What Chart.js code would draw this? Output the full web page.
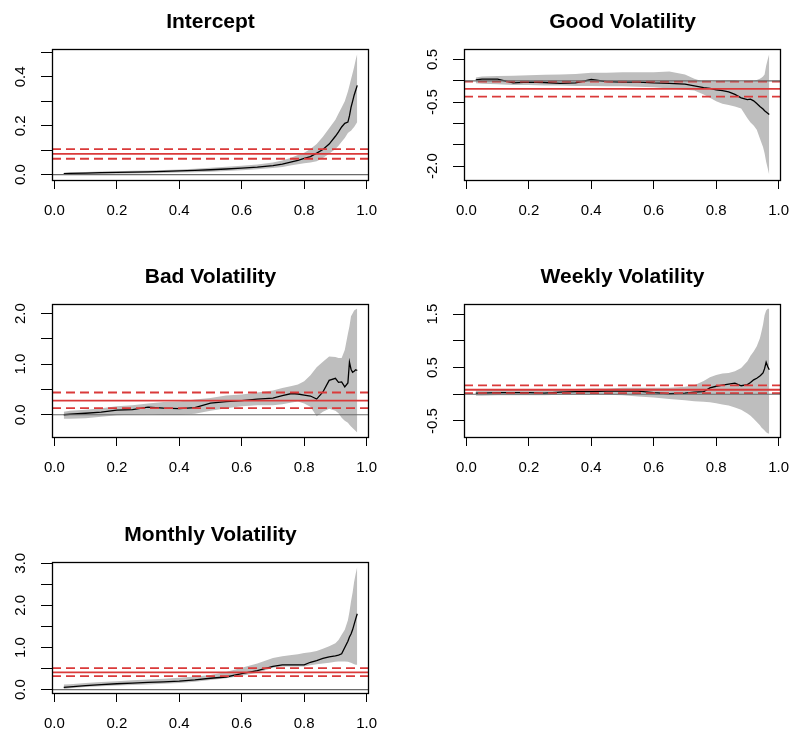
<!DOCTYPE html>
<html><head><meta charset="utf-8">
<script src="https://cdn.jsdelivr.net/npm/chart.js@4.4.1/dist/chart.umd.min.js"></script>
<style>
html,body{margin:0;padding:0;background:#fff;}
body{width:792px;height:733px;position:relative;overflow:hidden;}
.p{position:absolute;}
canvas{display:block;}
</style></head><body>
<div class="p" id="w0"><canvas id="c0"></canvas></div>
<div class="p" id="w1"><canvas id="c1"></canvas></div>
<div class="p" id="w2"><canvas id="c2"></canvas></div>
<div class="p" id="w3"><canvas id="c3"></canvas></div>
<div class="p" id="w4"><canvas id="c4"></canvas></div>
<script>
// ---------------- DATA ----------------
const taus = [0.03,0.05,0.10,0.15,0.20,0.25,0.30,0.35,0.40,0.45,0.50,0.55,0.60,0.65,0.70,0.73,0.76,0.78,0.80,0.82,0.84,0.86,0.88,0.90,0.91,0.92,0.93,0.94,0.945,0.95,0.955,0.96,0.965,0.97];

const titles = ["Intercept","Good Volatility","Bad Volatility","Weekly Volatility","Monthly Volatility"];

const interceptCoef  = [0.004,0.005,0.006,0.008,0.009,0.010,0.011,0.013,0.015,0.017,0.020,0.023,0.027,0.031,0.037,0.043,0.052,0.058,0.066,0.074,0.088,0.103,0.125,0.157,0.175,0.195,0.210,0.215,0.240,0.275,0.300,0.325,0.345,0.365];
const interceptLower = [0.000,0.001,0.002,0.003,0.004,0.005,0.006,0.007,0.009,0.010,0.012,0.015,0.018,0.022,0.027,0.031,0.038,0.042,0.047,0.050,0.055,0.068,0.085,0.105,0.118,0.135,0.150,0.170,0.175,0.180,0.188,0.195,0.205,0.215];
const interceptUpper = [0.008,0.009,0.011,0.013,0.014,0.016,0.017,0.019,0.021,0.024,0.028,0.032,0.036,0.041,0.050,0.058,0.070,0.080,0.090,0.105,0.125,0.155,0.190,0.225,0.250,0.275,0.300,0.340,0.365,0.390,0.415,0.440,0.470,0.495];
const interceptOls   = [0.085,0.065,0.104]; // estimate, lower, upper

const goodCoef  = [0.02,0.04,0.04,-0.05,-0.03,-0.04,-0.06,-0.05,0.03,-0.02,-0.03,-0.03,-0.05,-0.06,-0.08,-0.12,-0.16,-0.18,-0.21,-0.23,-0.26,-0.32,-0.40,-0.44,-0.43,-0.47,-0.53,-0.60,-0.63,-0.66,-0.70,-0.73,-0.76,-0.79];
const goodLower = [-0.06,-0.07,-0.08,-0.10,-0.10,-0.11,-0.11,-0.12,-0.12,-0.13,-0.13,-0.14,-0.15,-0.18,-0.21,-0.23,-0.32,-0.40,-0.48,-0.54,-0.57,-0.60,-0.65,-0.88,-0.98,-1.05,-1.15,-1.35,-1.45,-1.55,-1.70,-1.90,-2.05,-2.21];
const goodUpper = [0.08,0.10,0.11,0.12,0.13,0.14,0.15,0.16,0.19,0.19,0.20,0.20,0.20,0.22,0.15,0.05,-0.02,-0.03,-0.01,0.00,0.01,0.01,-0.02,-0.01,0.00,0.00,0.02,0.05,0.07,0.10,0.15,0.35,0.50,0.63];
const goodOls   = [-0.19,-0.37,-0.02];

const badCoef  = [0.00,0.01,0.03,0.05,0.09,0.10,0.15,0.13,0.12,0.14,0.23,0.26,0.28,0.31,0.33,0.38,0.42,0.41,0.39,0.37,0.31,0.45,0.68,0.72,0.64,0.65,0.55,0.63,1.04,0.90,0.84,0.86,0.89,0.875];
const badLower = [-0.08,-0.08,-0.07,-0.04,-0.01,0.00,0.01,0.00,0.00,0.02,0.08,0.13,0.17,0.19,0.19,0.21,0.24,0.26,0.22,0.16,-0.03,0.06,0.12,0.08,0.03,-0.06,-0.12,-0.16,-0.20,-0.23,-0.26,-0.29,-0.32,-0.35];
const badUpper = [0.06,0.08,0.10,0.13,0.17,0.19,0.22,0.25,0.26,0.30,0.33,0.38,0.40,0.44,0.48,0.53,0.57,0.60,0.66,0.78,0.94,1.05,1.15,1.14,1.12,1.12,1.28,1.60,1.75,1.95,2.00,2.06,2.08,2.10];
const badOls   = [0.28,0.13,0.44];

const weeklyCoef  = [0.02,0.02,0.03,0.03,0.03,0.02,0.04,0.05,0.05,0.06,0.06,0.06,0.03,0.01,0.02,0.04,0.05,0.12,0.15,0.17,0.19,0.21,0.16,0.18,0.22,0.27,0.30,0.34,0.37,0.40,0.48,0.60,0.52,0.46];
const weeklyLower = [-0.03,-0.03,-0.02,-0.02,-0.02,-0.02,-0.01,-0.01,-0.01,-0.01,-0.02,-0.04,-0.06,-0.09,-0.11,-0.13,-0.14,-0.15,-0.17,-0.19,-0.21,-0.25,-0.29,-0.36,-0.40,-0.46,-0.52,-0.58,-0.62,-0.65,-0.68,-0.71,-0.73,-0.74];
const weeklyUpper = [0.07,0.07,0.08,0.08,0.09,0.09,0.10,0.10,0.11,0.11,0.12,0.12,0.12,0.12,0.14,0.17,0.25,0.32,0.36,0.39,0.40,0.43,0.49,0.62,0.72,0.80,0.90,1.05,1.17,1.30,1.48,1.57,1.60,1.60];
const weeklyOls   = [0.085,0.02,0.165];

const monthlyCoef  = [0.055,0.065,0.095,0.12,0.14,0.155,0.17,0.185,0.20,0.23,0.27,0.30,0.38,0.45,0.55,0.59,0.59,0.59,0.59,0.65,0.69,0.74,0.78,0.80,0.82,0.85,1.00,1.15,1.25,1.32,1.42,1.55,1.68,1.80];
const monthlyLower = [0.015,0.03,0.06,0.08,0.10,0.11,0.12,0.14,0.16,0.19,0.23,0.27,0.33,0.40,0.52,0.55,0.55,0.55,0.55,0.58,0.60,0.62,0.64,0.66,0.67,0.67,0.67,0.66,0.65,0.64,0.62,0.60,0.59,0.59];
const monthlyUpper = [0.12,0.13,0.16,0.18,0.20,0.22,0.24,0.26,0.28,0.31,0.35,0.42,0.52,0.62,0.75,0.79,0.82,0.84,0.87,0.89,0.92,0.97,1.03,1.10,1.18,1.30,1.42,1.65,1.85,2.10,2.30,2.56,2.75,2.92];
const monthlyOls   = [0.41,0.32,0.51];

const xTicks = [0,0.2,0.4,0.6,0.8,1.0];
const xTickLabels = ["0.0","0.2","0.4","0.6","0.8","1.0"];

const interceptYTicks = [0,0.1,0.2,0.3,0.4,0.5];
const interceptYLabels = ["0.0","","0.2","","0.4",""];
const goodYTicks = [0.5,0,-0.5,-1.0,-1.5,-2.0];
const goodYLabels = ["0.5","","-0.5","","","-2.0"];
const badYTicks = [0,0.5,1.0,1.5,2.0];
const badYLabels = ["0.0","","1.0","","2.0"];
const weeklyYTicks = [-0.5,0,0.5,1.0,1.5];
const weeklyYLabels = ["-0.5","","0.5","","1.5"];
const monthlyYTicks = [0,0.5,1.0,1.5,2.0,2.5,3.0];
const monthlyYLabels = ["0.0","","1.0","","2.0","","3.0"];

// ---------------- LAYOUT / STYLE ----------------
const XMIN = -0.0076, XMAX = 1.0076;
const FONT = '"Liberation Sans", Arial, Helvetica, sans-serif';
const RED = 'rgb(218,58,58)';
const BAND = '#bebebe';

const panels = [
  {coef:interceptCoef, lower:interceptLower, upper:interceptUpper, ols:interceptOls, yt:interceptYTicks, yl:interceptYLabels},
  {coef:goodCoef, lower:goodLower, upper:goodUpper, ols:goodOls, yt:goodYTicks, yl:goodYLabels},
  {coef:badCoef, lower:badLower, upper:badUpper, ols:badOls, yt:badYTicks, yl:badYLabels},
  {coef:weeklyCoef, lower:weeklyLower, upper:weeklyUpper, ols:weeklyOls, yt:weeklyYTicks, yl:weeklyYLabels},
  {coef:monthlyCoef, lower:monthlyLower, upper:monthlyUpper, ols:monthlyOls, yt:monthlyYTicks, yl:monthlyYLabels}
];
const boxes = [
  {left:52, top:49, w:317, h:131, ymin:-0.022, ymax:0.514},
  {left:464, top:49, w:317, h:131, ymin:-2.325, ymax:0.745},
  {left:52, top:304, w:317, h:133, ymin:-0.44, ymax:2.19},
  {left:464, top:304, w:317, h:133, ymin:-0.80, ymax:1.69},
  {left:52, top:562, w:317, h:131, ymin:-0.08, ymax:3.03}
];

const PADL = 52, PADT = 48, PADR = 20, XAXH = 50;

const framePlugin = {
  id:'frame',
  afterDraw(chart){
    const ctx = chart.ctx, a = chart.chartArea, o = chart.options.plugins.frame;
    ctx.save();
    // box
    ctx.strokeStyle = '#000'; ctx.lineWidth = 1.3;
    ctx.strokeRect(Math.round(a.left)+0.5, Math.round(a.top)+0.5, Math.round(a.right-a.left)-1, Math.round(a.bottom-a.top));
    // title
    ctx.fillStyle = '#000';
    ctx.font = 'bold 21px ' + FONT;
    ctx.textAlign = 'center'; ctx.textBaseline = 'alphabetic';
    ctx.fillText(o.title, (a.left + a.right)/2, a.top - 21);
    // rotated y labels
    const ys = chart.scales.y;
    ctx.font = '15px ' + FONT;
    o.yTicks.forEach((v,i) => {
      const lab = o.yLabels[i];
      if (!lab) return;
      const py = ys.getPixelForValue(v);
      ctx.save();
      ctx.translate(a.left - 27.5, py);
      ctx.rotate(-Math.PI/2);
      ctx.textAlign = 'center'; ctx.textBaseline = 'alphabetic';
      ctx.fillText(lab, 0, 0);
      ctx.restore();
    });
    ctx.restore();
  }
};

function makeChart(i){
  const B = boxes[i], P = panels[i];
  const cw = PADL + B.w + PADR, ch = PADT + B.h + XAXH;
  const wrap = document.getElementById('w'+i);
  wrap.style.left = (B.left-PADL)+'px'; wrap.style.top = (B.top-PADT)+'px';
  wrap.style.width = cw+'px'; wrap.style.height = ch+'px';
  const cv = document.getElementById('c'+i);
  cv.width = cw; cv.height = ch; cv.style.width = cw+'px'; cv.style.height = ch+'px';
  const xy = arr => taus.map((t,k) => ({x:t, y:arr[k]}));
  const hline = v => [{x:XMIN, y:v}, {x:XMAX, y:v}];
  new Chart(cv, {
    type:'line',
    data:{datasets:[
      {data:hline(0), borderColor:'#6a6a6a', borderWidth:1.2},
      {data:hline(P.ols[1]), borderColor:RED, borderWidth:1.8, borderDash:[9,5]},
      {data:hline(P.ols[2]), borderColor:RED, borderWidth:1.8, borderDash:[9,5]},
      {data:hline(P.ols[0]), borderColor:RED, borderWidth:1.8},
      {data:xy(P.coef), borderColor:'#000', borderWidth:1.3},
      {data:xy(P.upper), borderColor:'rgba(0,0,0,0)', borderWidth:0},
      {data:xy(P.lower), borderColor:'rgba(0,0,0,0)', borderWidth:0, fill:'-1', backgroundColor:BAND}
    ]},
    options:{
      responsive:false, animation:false, devicePixelRatio:1,
      layout:{padding:{top:PADT, left:0, right:PADR, bottom:0}},
      elements:{point:{radius:0, hoverRadius:0}, line:{tension:0}},
      plugins:{legend:{display:false}, tooltip:{enabled:false}, title:{display:false},
        frame:{title:titles[i], yTicks:P.yt, yLabels:P.yl}},
      scales:{
        x:{type:'linear', min:XMIN, max:XMAX, bounds:'data',
          afterBuildTicks:s => { s.ticks = xTicks.map(v => ({value:v})); },
          afterFit:s => { s.height = XAXH; s.paddingLeft = 0; s.paddingRight = 0; },
          grid:{drawOnChartArea:false, drawTicks:true, tickLength:9, color:'#000', tickColor:'#000', lineWidth:1},
          border:{display:false},
          ticks:{autoSkip:false, maxRotation:0, minRotation:0, padding:13, color:'#000',
            font:{family:FONT, size:15}, callback:(v,idx) => xTickLabels[idx]}
        },
        y:{type:'linear', min:B.ymin, max:B.ymax, bounds:'data',
          afterBuildTicks:s => { s.ticks = P.yt.map(v => ({value:v})); },
          afterFit:s => { s.width = PADL; s.paddingTop = 0; s.paddingBottom = 0; },
          grid:{drawOnChartArea:false, drawTicks:true, tickLength:11, color:'#000', tickColor:'#000', lineWidth:1},
          border:{display:false},
          ticks:{display:false}
        }
      }
    },
    plugins:[framePlugin]
  });
}
for (let i = 0; i < 5; i++) makeChart(i);
</script>
</body></html>
